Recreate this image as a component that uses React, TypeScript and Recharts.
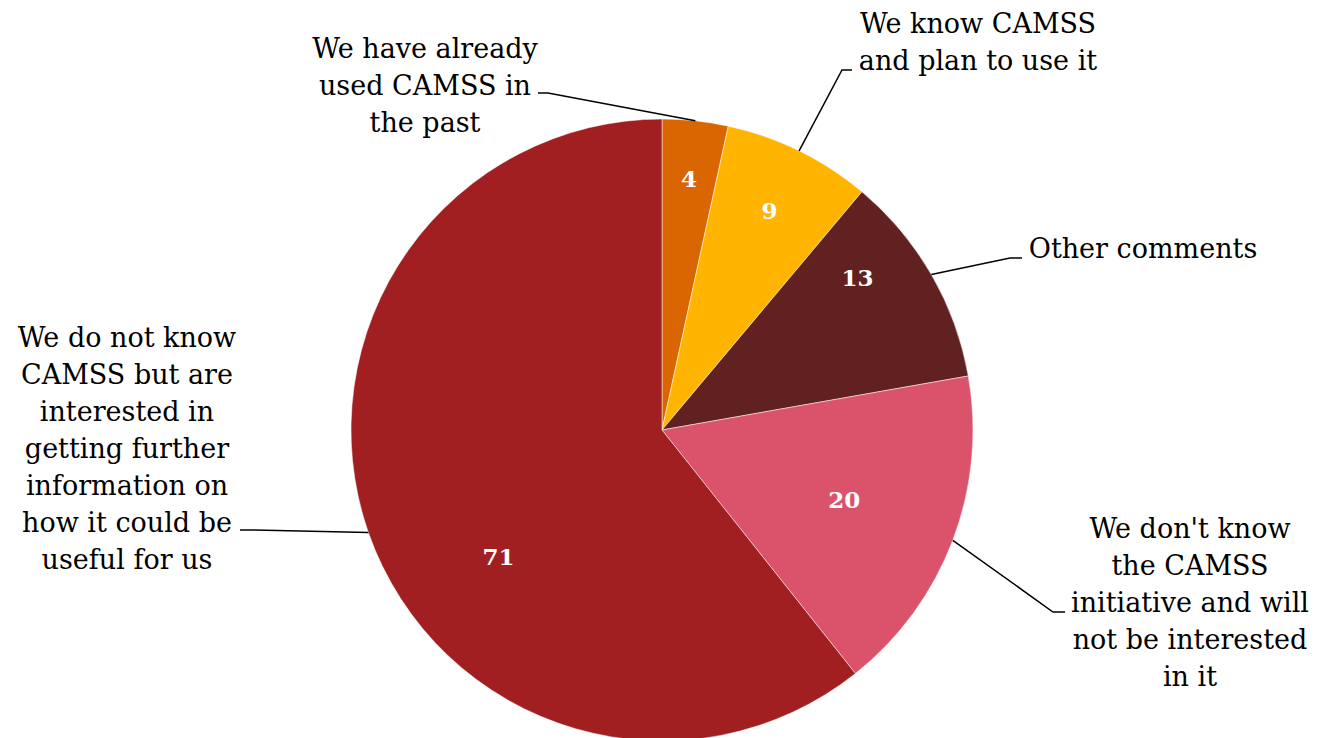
import { PieChart, Pie, Cell } from 'recharts';

const categories = [
  'We have already used CAMSS in the past',
  'We know CAMSS and plan to use it',
  'Other comments',
  "We don't know the CAMSS initiative and will not be interested in it",
  'We do not know CAMSS but are interested in getting further information on how it could be useful for us',
];
const responses = [4, 9, 13, 20, 71];
const labelLines = [
  ['We have already', 'used CAMSS in', 'the past'],
  ['We know CAMSS', 'and plan to use it'],
  ['Other comments'],
  ["We don't know", 'the CAMSS', 'initiative and will', 'not be interested', 'in it'],
  ['We do not know', 'CAMSS but are', 'interested in', 'getting further', 'information on', 'how it could be', 'useful for us'],
];

const COLORS = ['#D96600', '#FFB400', '#612121', '#DB536B', '#A11F21'];
const FONT = "Georgia, 'DejaVu Serif', serif";

// label layout, offsets relative to the pie centre
const layout = [
  { elbow: [-114, -337], end: -124, text: [-237, -382], inR: 253, inShift: 0 },
  { elbow: [180, -360], end: 190, text: [316, -407], inR: 244, inShift: 0 },
  { elbow: [348, -172], end: 360, text: [481, -182], inR: 248, inShift: -8 },
  { elbow: [391, 182], end: 403, text: [528, 98], inR: 195, inShift: 0 },
  { elbow: [-412, 100], end: -422, text: [-535, -93], inR: 207, inShift: -18.6 },
];

const data = categories.map((name, i) => ({ name, value: responses[i] }));

const renderLabel = (props: any) => {
  const cx = Number(props.cx);
  const cy = Number(props.cy);
  const r = Number(props.outerRadius);
  const i = props.index;
  const L = layout[i];
  const theta = ((90 - props.midAngle) * Math.PI) / 180;
  const ax = cx + r * Math.sin(theta);
  const ay = cy - r * Math.cos(theta);
  const t2 = ((90 - props.midAngle + L.inShift) * Math.PI) / 180;
  const nx = cx + L.inR * Math.sin(t2);
  const ny = cy - L.inR * Math.cos(t2);
  const ex = cx + L.elbow[0];
  const ey = cy + L.elbow[1];
  const lh = 37;
  return (
    <g key={`lbl-${i}`}>
      <polyline
        points={`${ax},${ay} ${ex},${ey} ${cx + L.end},${ey}`}
        fill="none"
        stroke="#000"
        strokeWidth={1.5}
      />
      <text
        x={nx}
        y={ny}
        textAnchor="middle"
        dominantBaseline="central"
        fill="#fff"
        fontFamily={FONT}
        fontWeight="bold"
        fontSize={23}
      >
        {responses[i]}
      </text>
      <text
        textAnchor="middle"
        fill="#000"
        fontFamily={FONT}
        fontSize={27}
      >
        {labelLines[i].map((line, k) => (
          <tspan
            key={k}
            x={cx + L.text[0]}
            y={cy + L.text[1] + k * lh}
            dominantBaseline="central"
          >
            {line}
          </tspan>
        ))}
      </text>
    </g>
  );
};

export default function App() {
  return (
    <PieChart
      width={1311}
      height={730}
      margin={{ top: 0, right: 0, bottom: 0, left: 0 }}
      style={{ overflow: 'visible' }}
    >
      <Pie
        data={data}
        dataKey="value"
        nameKey="name"
        cx={654}
        cy={422}
        outerRadius={311}
        startAngle={90}
        endAngle={-270}
        stroke="#fff"
        strokeWidth={0.5}
        label={renderLabel}
        labelLine={false}
        isAnimationActive={false}
      >
        {data.map((d, i) => (
          <Cell key={d.name} fill={COLORS[i]} />
        ))}
      </Pie>
    </PieChart>
  );
}
